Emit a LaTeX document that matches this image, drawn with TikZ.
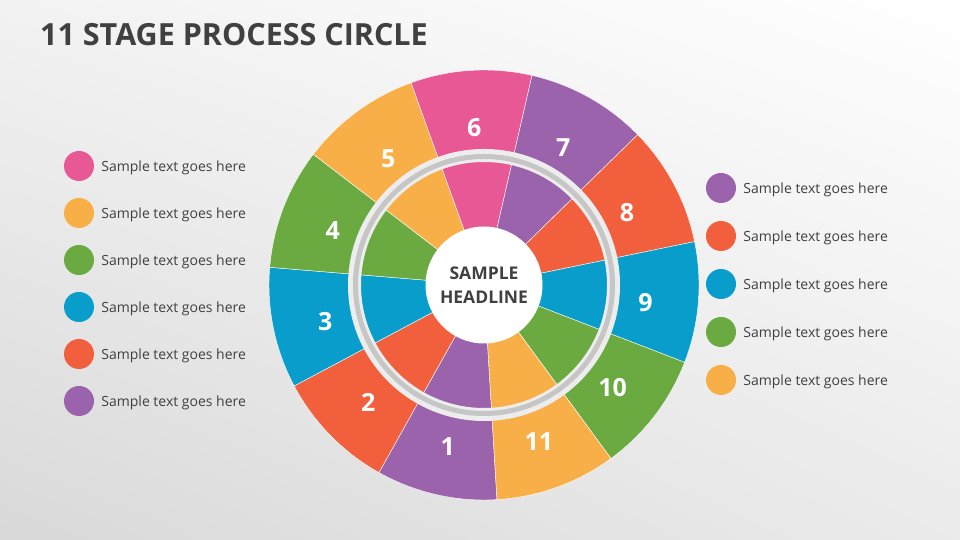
\documentclass[tikz,border=0pt]{standalone}
\usepackage{fontspec}
\setmainfont{Open Sans}
\usetikzlibrary{positioning, calc, shadings}

\definecolor{stpurple}{HTML}{9A63AB}
\definecolor{stred}{HTML}{F15F3C}
\definecolor{stblue}{HTML}{089DCA}
\definecolor{stgreen}{HTML}{6AAA40}
\definecolor{storange}{HTML}{F9AF48}
\definecolor{stpink}{HTML}{E85894}
\definecolor{darktext}{HTML}{404040}
\definecolor{ringlight}{HTML}{EDEDED}
\definecolor{ringgrey}{HTML}{C6C6C6}

\begin{document}
\begin{tikzpicture}[x=1pt, y=1pt,
    numlabel/.style={text=white, font=\bfseries\fontsize{25}{25}\selectfont},
    legdot/.style={circle, minimum size=30pt, inner sep=0pt},
    legtext/.style={text=darktext, inner sep=0pt, yshift=-2pt, font=\fontsize{14}{16}\selectfont}]

    % background
    \useasboundingbox (0,0) rectangle (960,540);
    \shade[upper left=black!5, upper right=white, lower left=black!15, lower right=black!8] (0,0) rectangle (960,540);

    \node[anchor=west, inner sep=0pt, text=darktext, font=\bfseries\fontsize{30.5}{32}\selectfont] (title) at (40,505) {11 STAGE PROCESS CIRCLE};

    \coordinate (C) at (484,255);
    \def\Rout{215pt}
    \def\half{16.364}

    % outer wheel, one slice per stage
    \foreach \k/\col in {1/stpurple, 2/stred, 3/stblue, 4/stgreen, 5/storange, 6/stpink,
                         7/stpurple, 8/stred, 9/stblue, 10/stgreen, 11/storange} {
        \pgfmathsetmacro\ang{257.1-360/11*(\k-1)}
        \filldraw[fill=\col, draw=white, line width=0.4pt] (C) -- ++(\ang-\half:\Rout)
            arc[start angle=\ang-\half, end angle=\ang+\half, radius=\Rout] -- cycle;
        \node[numlabel] (n\k) at ($(C)+(\ang:162pt)+(0,-4)$) {\k};
    }

    % grey ring
    \draw[ringlight, line width=13pt] (C) circle (129.5pt);
    \draw[ringgrey, line width=5pt] (C) circle (128.5pt);

    \node[circle, fill=white, minimum size=117pt, inner sep=0pt, align=center, text=darktext,
          font=\bfseries\fontsize{17.5}{24}\selectfont] (headline) at (C) {SAMPLE\\HEADLINE};

    % legends
    \foreach \col [count=\i] in {stpink, storange, stgreen, stblue, stred, stpurple} {
        \node[legdot, fill=\col] (ldot\i) at (79,{374-47*(\i-1)}) {};
        \node[legtext, right=7pt of ldot\i] (ltext\i) {Sample text goes here};
    }
    \foreach \col [count=\i] in {stpurple, stred, stblue, stgreen, storange} {
        \node[legdot, fill=\col] (rdot\i) at (721,{352-48*(\i-1)}) {};
        \node[legtext, right=7pt of rdot\i] (rtext\i) {Sample text goes here};
    }
\end{tikzpicture}
\end{document}
